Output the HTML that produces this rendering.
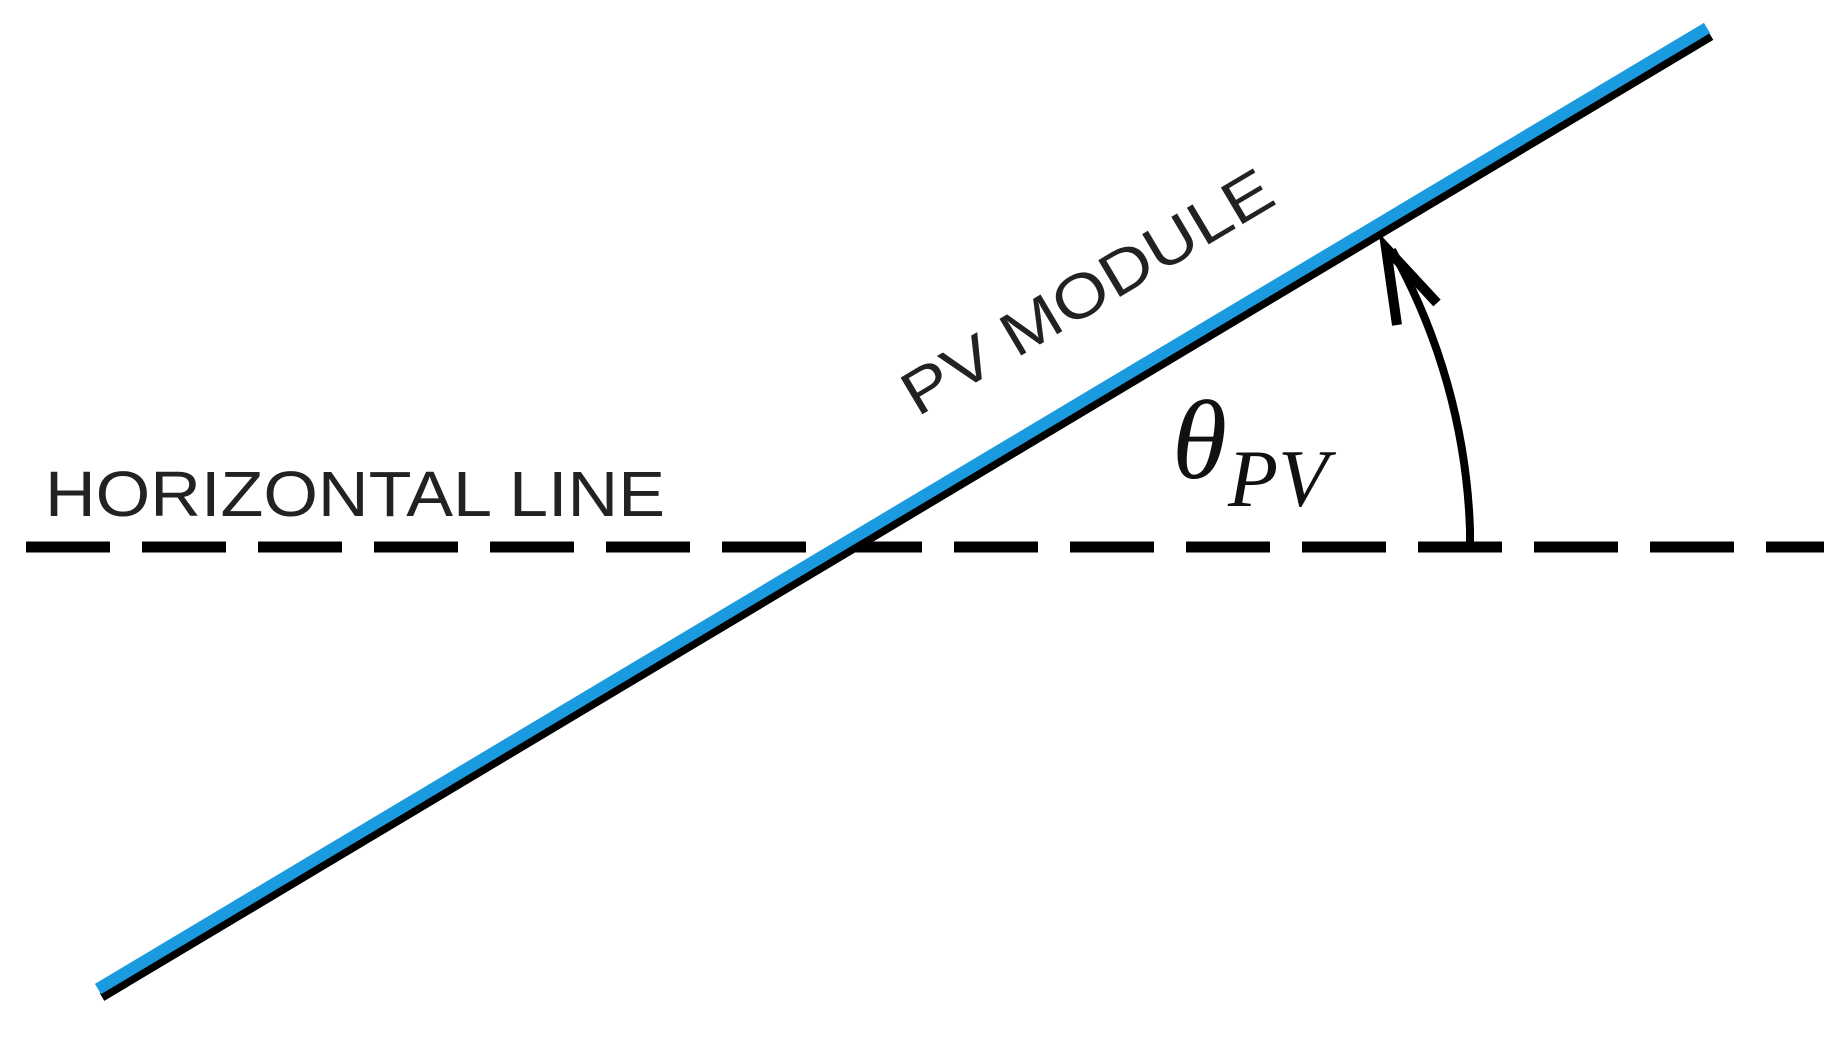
<!DOCTYPE html>
<html><head><meta charset="utf-8"><style>html,body{margin:0;padding:0;background:#fff}svg{display:block}</style></head>
<body>
<svg width="1848" height="1037" viewBox="0 0 1848 1037" xmlns="http://www.w3.org/2000/svg">
<line x1="26" y1="547" x2="1824" y2="547" stroke="#000" stroke-width="11" stroke-dasharray="84,32"/>
<line x1="102" y1="997" x2="1711" y2="36" stroke="#000" stroke-width="9"/>
<line x1="98" y1="989" x2="1707" y2="28" stroke="#1a9be0" stroke-width="12"/>
<path d="M1470,547 L1470,530 A616,616 0 0 0 1392,250" fill="none" stroke="#000" stroke-width="8"/>
<path d="M1397,325 L1386,248 L1437,303" fill="none" stroke="#000" stroke-width="10" stroke-linejoin="miter"/>
<text x="45" y="516" font-family="Liberation Sans, sans-serif" font-size="64" fill="#222" textLength="620" lengthAdjust="spacingAndGlyphs">HORIZONTAL LINE</text>
<text transform="translate(1098,310) rotate(-30.7)" text-anchor="middle" font-family="Liberation Sans, sans-serif" font-size="62" fill="#222" textLength="420" lengthAdjust="spacingAndGlyphs">PV MODULE</text>
<text x="1172" y="478" font-family="Liberation Serif, serif" font-style="italic" font-size="112" fill="#111">θ</text>
<text x="1228" y="506" font-family="Liberation Serif, serif" font-style="italic" font-size="82" fill="#111">PV</text>
</svg>
</body></html>
